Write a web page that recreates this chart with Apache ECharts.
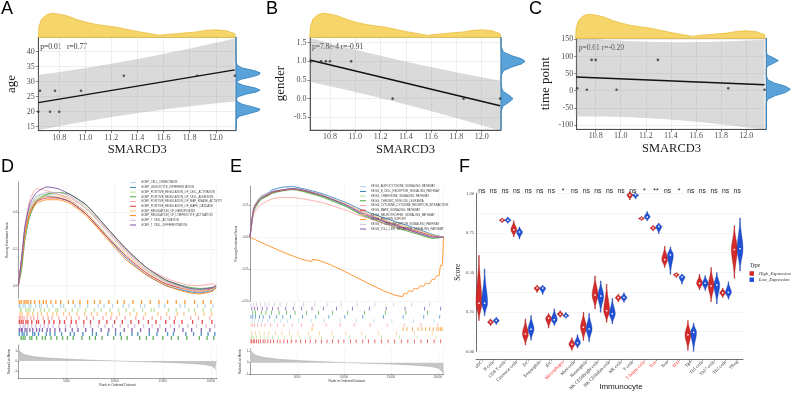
<!DOCTYPE html>
<html>
<head>
<meta charset="utf-8">
<script src="https://cdn.jsdelivr.net/npm/echarts@6.0.0/dist/echarts.min.js"></script>
<style>
  html, body { margin: 0; padding: 0; background: #fff; }
  #main { width: 794px; height: 393px; }
</style>
</head>
<body>
<div id="main"></div>
<script>
var SERIF = "'Liberation Serif', 'DejaVu Serif', serif";
var SANS = "'Liberation Sans', 'DejaVu Sans', sans-serif";

// A-C: SMARCD3 expression against clinical traits
var smarcd3 = [10.64, 10.653, 10.73, 10.768, 10.80, 10.967, 11.296, 11.857, 12.146];
var age = [20, 27, 20, 27, 20, 27, 32, 32, 32];
var gender = [1, 1, 1, 1, 1, 1, 0, 0, 0];
var timePoint = [7, 7, 3, 90, 90, 3, 90, 7, 3];
var smarcdTicks = [10.8, 11.0, 11.2, 11.4, 11.6, 11.8, 12.0];
var ageTicks = [15, 20, 25, 30, 35, 40];
var genderTicks = [-0.5, 0, 0.5, 1, 1.5];
var timeTicks = [-100, -50, 0, 50, 100, 150];
var corrText = ['p=0.01   r=0.77', 'p=7.8e-4 r=-0.91', 'p=0.61 r=-0.20'];

// marginal densities (relative height)
var densX = [10.64, 10.645, 10.666, 10.704, 10.743, 10.793, 10.857, 10.934, 11.011, 11.087, 11.164, 11.24, 11.317, 11.419, 11.52, 11.572, 11.623, 11.70, 11.776, 11.853, 11.929, 12.006, 12.083, 12.146, 12.15];
var densH = [0, 0.45, 0.76, 0.94, 1.0, 0.97, 0.90, 0.74, 0.62, 0.53, 0.47, 0.42, 0.33, 0.22, 0.13, 0.08, 0.12, 0.15, 0.19, 0.22, 0.29, 0.31, 0.27, 0.15, 0];
var ageDensV = [13.7, 17.5, 18.5, 19.5, 20.3, 20.9, 21.6, 22.5, 23.4, 24.2, 25.0, 25.8, 26.6, 27.2, 27.9, 28.8, 29.6, 30.1, 30.8, 31.7, 32.4, 33.0, 33.7, 34.6, 35.6, 37, 44.8];
var ageDensH = [0, 0.02, 0.15, 0.6, 0.95, 1.0, 0.7, 0.25, 0.05, 0.02, 0.08, 0.4, 0.85, 1.0, 0.8, 0.3, 0.06, 0.04, 0.2, 0.7, 0.97, 1.0, 0.75, 0.25, 0.04, 0, 0];
var genderDensV = [-0.84, -0.35, -0.2, -0.1, 0, 0.1, 0.2, 0.35, 0.6, 0.75, 0.85, 0.93, 1.0, 1.07, 1.15, 1.25, 1.4, 1.645];
var genderDensH = [0, 0, 0.08, 0.32, 0.5, 0.32, 0.08, 0, 0, 0.1, 0.45, 0.85, 1.0, 0.85, 0.45, 0.1, 0, 0];
var timeDensV = [-112.6, -35, -25, -15, -5, 4, 13, 22, 32, 45, 65, 72, 80, 88, 96, 104, 112, 153];
var timeDensH = [0, 0, 0.06, 0.35, 0.8, 1.0, 0.8, 0.35, 0.06, 0, 0, 0.05, 0.3, 0.5, 0.3, 0.05, 0, 0];

// D/E: GSEA
var palette = ['#A6CEE3', '#1F78B4', '#B2DF8A', '#33A02C', '#FB9A99', '#E31A1C', '#FDBF6F', '#FF7F00', '#CAB2D6', '#6A3D9A'];
var goNames = ['GOBP_CELL_CHEMOTAXIS', 'GOBP_LEUKOCYTE_DIFFERENTIATION', 'GOBP_POSITIVE_REGULATION_OF_CELL_ACTIVATION',
  'GOBP_POSITIVE_REGULATION_OF_CELL_ADHESION', 'GOBP_POSITIVE_REGULATION_OF_MAP_KINASE_ACTIVITY', 'GOBP_POSITIVE_REGULATION_OF_MAPK_CASCADE',
  'GOBP_REGULATION_OF_HEMOPOIESIS', 'GOBP_REGULATION_OF_LYMPHOCYTE_ACTIVATION', 'GOBP_T_CELL_ACTIVATION', 'GOBP_T_CELL_DIFFERENTIATION'];
var dRank = [0, 350, 690, 1210, 1900, 2940, 4140, 5350, 7080, 9150, 11220, 13290, 15360, 17430, 18810, 20190, 20540];
var dES = [
  [0, 0.15, 0.31, 0.43, 0.49, 0.50, 0.50, 0.47, 0.40, 0.28, 0.16, 0.07, 0.01, -0.025, -0.035, -0.02, -0.01],
  [0, 0.14, 0.30, 0.41, 0.47, 0.49, 0.48, 0.46, 0.39, 0.27, 0.15, 0.06, 0.00, -0.03, -0.04, -0.025, -0.01],
  [0, 0.13, 0.29, 0.42, 0.48, 0.50, 0.51, 0.49, 0.43, 0.31, 0.19, 0.09, 0.025, -0.01, -0.02, -0.01, 0],
  [0, 0.09, 0.25, 0.38, 0.46, 0.50, 0.51, 0.50, 0.44, 0.32, 0.20, 0.10, 0.03, -0.005, -0.015, -0.01, 0],
  [0, 0.16, 0.33, 0.47, 0.53, 0.52, 0.50, 0.48, 0.42, 0.31, 0.19, 0.10, 0.04, 0.005, 0.00, 0.01, 0],
  [0, 0.14, 0.29, 0.40, 0.46, 0.48, 0.48, 0.46, 0.39, 0.27, 0.16, 0.07, 0.01, -0.02, -0.03, -0.015, 0],
  [0, 0.13, 0.29, 0.41, 0.47, 0.49, 0.49, 0.47, 0.40, 0.28, 0.17, 0.08, 0.02, -0.02, -0.03, -0.02, 0],
  [0, 0.13, 0.28, 0.40, 0.45, 0.47, 0.47, 0.45, 0.38, 0.26, 0.14, 0.06, 0.00, -0.035, -0.045, -0.03, -0.01],
  [0, 0.15, 0.31, 0.43, 0.49, 0.51, 0.51, 0.49, 0.42, 0.30, 0.18, 0.085, 0.02, -0.015, -0.025, -0.01, 0],
  [0, 0.15, 0.32, 0.45, 0.51, 0.54, 0.53, 0.50, 0.44, 0.32, 0.20, 0.10, 0.03, -0.01, -0.02, -0.01, 0]
];
// hit positions, thousands of ranks
var dHits = [
  [0.1, 0.2, 0.5, 0.7, 1.1, 1.3, 1.8, 2.2, 2.4, 3.0, 3.6, 4.4, 4.7, 5.9, 6.4, 7.2, 8.3, 8.9, 9.8, 10.9, 11.5, 12.7, 13.1, 14.6, 15.2, 16.8, 17.3, 18.6, 19.4, 20.2],
  [0.1, 0.4, 0.6, 0.9, 1.5, 1.7, 2.1, 2.9, 3.3, 3.8, 4.5, 5.4, 5.8, 6.7, 7.7, 8.1, 9.3, 10.1, 10.6, 11.8, 12.4, 13.6, 14.4, 15.5, 16.1, 17.4, 18.2, 19.0, 19.7, 20.4],
  [0.2, 0.3, 0.8, 1.0, 1.2, 1.6, 2.3, 2.7, 3.2, 3.9, 4.1, 4.9, 5.6, 6.2, 7.0, 7.9, 8.6, 9.5, 10.4, 11.2, 12.0, 12.9, 13.8, 14.1, 15.6, 16.4, 17.7, 18.3, 19.2, 20.0],
  [0.3, 0.5, 0.7, 1.2, 1.4, 1.9, 2.5, 2.8, 3.4, 4.0, 4.6, 5.1, 5.7, 6.6, 7.4, 8.0, 8.7, 9.9, 10.7, 11.3, 12.6, 13.3, 14.0, 15.0, 15.9, 16.6, 17.5, 18.8, 19.6, 20.3],
  [0.1, 0.2, 0.4, 0.6, 0.9, 1.3, 1.6, 2.0, 2.6, 3.1, 3.5, 4.2, 5.0, 5.5, 6.3, 7.1, 7.8, 8.8, 9.6, 10.2, 11.1, 12.2, 13.0, 13.9, 14.8, 15.7, 16.3, 17.9, 18.7, 19.9],
  [0.1, 0.3, 0.5, 0.8, 1.0, 1.4, 1.9, 2.1, 2.7, 3.2, 3.7, 4.3, 4.8, 5.5, 6.0, 6.8, 7.5, 8.4, 9.2, 10.0, 10.8, 11.7, 12.5, 13.5, 14.3, 15.3, 16.2, 17.0, 18.1, 19.1, 20.1],
  [0.2, 0.4, 0.9, 1.1, 1.5, 2.0, 2.4, 3.0, 3.6, 4.0, 4.7, 5.3, 6.1, 6.9, 7.6, 8.2, 9.1, 9.7, 10.5, 11.6, 12.3, 13.2, 14.5, 15.4, 16.5, 17.2, 18.4, 19.3, 20.1],
  [0.1, 0.3, 0.6, 0.8, 1.0, 1.3, 1.7, 2.2, 2.6, 2.9, 3.4, 3.9, 4.4, 5.2, 5.7, 6.4, 7.2, 7.9, 8.5, 9.4, 10.3, 11.0, 11.9, 12.8, 13.7, 14.6, 15.5, 16.4, 17.3, 18.3, 19.2, 20.0],
  [0.2, 0.5, 0.7, 1.0, 1.4, 1.8, 2.3, 2.7, 3.1, 3.6, 4.2, 4.9, 5.4, 6.1, 6.8, 7.5, 8.3, 9.0, 9.8, 10.6, 11.4, 12.1, 13.0, 13.9, 14.7, 15.8, 16.7, 17.6, 18.5, 19.5, 20.4],
  [0.1, 0.3, 0.4, 0.7, 0.9, 1.2, 1.5, 1.9, 2.2, 2.5, 3.0, 3.3, 3.8, 4.3, 4.9, 5.6, 6.2, 7.0, 7.7, 8.6, 9.4, 10.1, 11.0, 11.8, 12.7, 13.6, 14.5, 15.3, 16.2, 17.1, 18.0, 19.0, 19.9]
];
var dRowOrder = [7, 0, 2, 6, 4, 5, 8, 9, 1, 3];

var keggNames = ['KEGG_ADIPOCYTOKINE_SIGNALING_PATHWAY', 'KEGG_B_CELL_RECEPTOR_SIGNALING_PATHWAY', 'KEGG_CHEMOKINE_SIGNALING_PATHWAY',
  'KEGG_CHRONIC_MYELOID_LEUKEMIA', 'KEGG_CYTOKINE_CYTOKINE_RECEPTOR_INTERACTION', 'KEGG_MAPK_SIGNALING_PATHWAY',
  'KEGG_NEUROTROPHIN_SIGNALING_PATHWAY', 'KEGG_PROTEIN_EXPORT', 'KEGG_T_CELL_RECEPTOR_SIGNALING_PATHWAY', 'KEGG_TOLL_LIKE_RECEPTOR_SIGNALING_PATHWAY'];
var eRank = [0, 400, 1100, 1800, 2400, 3450, 4550, 5600, 7700, 10200, 12000, 15500, 18000, 19450, 20600];
var exportRank = [0, 6600, 6650, 16260, 16400, 16700, 16900, 17300, 17500, 17900, 18100, 18500, 18700, 19100, 19400, 19600, 19900, 20100, 20300, 20450, 20600];
var exportES = [0, -0.19, -0.175, -0.465, -0.44, -0.445, -0.42, -0.425, -0.40, -0.405, -0.38, -0.385, -0.36, -0.365, -0.33, -0.335, -0.30, -0.305, -0.22, -0.225, 0];
var eES = [
  [0, 0.21, 0.29, 0.32, 0.34, 0.36, 0.37, 0.36, 0.32, 0.25, 0.19, 0.10, 0.045, 0.015, 0],
  [0, 0.22, 0.31, 0.34, 0.37, 0.39, 0.395, 0.38, 0.34, 0.27, 0.21, 0.12, 0.06, 0.02, 0],
  [0, 0.23, 0.31, 0.33, 0.35, 0.36, 0.37, 0.355, 0.31, 0.24, 0.17, 0.08, 0.03, 0.0, 0],
  [0, 0.20, 0.29, 0.32, 0.345, 0.365, 0.375, 0.36, 0.315, 0.24, 0.17, 0.075, 0.02, -0.01, 0],
  [0, 0.18, 0.25, 0.28, 0.30, 0.31, 0.31, 0.30, 0.27, 0.21, 0.16, 0.08, 0.03, 0.005, 0],
  [0, 0.22, 0.30, 0.325, 0.35, 0.365, 0.375, 0.365, 0.325, 0.255, 0.19, 0.095, 0.04, 0.01, 0],
  [0, 0.21, 0.30, 0.33, 0.355, 0.37, 0.38, 0.37, 0.33, 0.26, 0.20, 0.105, 0.05, 0.015, 0],
  exportES,
  [0, 0.24, 0.32, 0.34, 0.36, 0.37, 0.38, 0.37, 0.33, 0.255, 0.19, 0.09, 0.035, 0.005, 0],
  [0, 0.22, 0.30, 0.33, 0.355, 0.37, 0.38, 0.37, 0.325, 0.25, 0.18, 0.09, 0.03, 0.0, 0]
];
var eHits = [
  [0.2, 0.5, 0.9, 1.3, 1.9, 2.6, 3.3, 4.0, 5.2, 6.5, 7.9, 9.6, 11.3, 13.2, 15.1, 17.4, 19.6],
  [0.1, 0.3, 0.6, 1.0, 1.4, 2.1, 2.8, 3.5, 4.3, 5.6, 7.0, 8.4, 10.1, 12.0, 14.2, 16.3, 18.5, 20.2],
  [0.1, 0.2, 0.4, 0.7, 1.1, 1.5, 1.9, 2.4, 3.0, 3.7, 4.4, 5.3, 6.4, 7.6, 8.9, 10.6, 12.3, 14.0, 15.9, 17.8, 19.8],
  [0.3, 0.6, 1.2, 1.7, 2.3, 3.1, 3.9, 4.8, 6.0, 7.3, 8.8, 10.4, 12.2, 14.4, 16.6, 18.9],
  [0.1, 0.3, 0.5, 0.8, 1.2, 1.6, 2.2, 2.9, 3.6, 4.5, 5.5, 6.7, 8.1, 9.6, 11.1, 12.8, 14.6, 16.4, 18.2, 20.0],
  [0.1, 0.2, 0.4, 0.5, 0.7, 0.9, 1.1, 1.4, 1.6, 1.9, 2.2, 2.5, 2.9, 3.2, 3.6, 4.0, 4.4, 4.9, 5.4, 5.9, 6.4, 7.0, 7.6, 8.2, 8.8, 9.4, 10.0, 10.7, 11.3, 12.0, 12.6, 13.3, 14.0, 14.7, 15.4, 16.1, 16.8, 17.5, 18.2, 18.9, 19.6, 20.3],
  [0.2, 0.6, 1.0, 1.5, 2.0, 2.7, 3.4, 4.2, 5.1, 6.2, 7.4, 8.7, 10.2, 11.9, 13.7, 15.6, 17.5, 19.4],
  [6.6, 16.3, 16.7, 17.3, 17.9, 18.3, 18.7, 19.1, 19.5, 19.9, 20.1, 20.3, 20.45],
  [0.1, 0.4, 0.7, 1.1, 1.6, 2.0, 2.6, 3.2, 3.9, 4.7, 5.7, 6.9, 8.2, 9.7, 11.4, 13.3, 15.3, 17.2, 19.1],
  [0.2, 0.5, 0.8, 1.3, 1.8, 2.4, 3.0, 3.8, 4.6, 5.5, 6.6, 7.8, 9.2, 10.9, 12.7, 14.5, 16.5, 18.6, 20.3]
];
var eRowOrder = [8, 9, 3, 1, 0, 4, 7, 6, 2, 5];
var rankX = [0, 150, 600, 1500, 3000, 5500, 8000, 10300, 12500, 15000, 17500, 19300, 20100, 20450, 20600];
var rankM = [1.3, 0.95, 0.65, 0.45, 0.3, 0.17, 0.07, 0, -0.06, -0.13, -0.22, -0.35, -0.5, -0.8, -1.0];
var esTicksD = [0, 0.2, 0.4];
var esTicksE = [-0.5, -0.25, 0, 0.25];
var metricTicks = [-1, 0, 1];

// F: immune cell ssGSEA scores by SMARCD3 group
var cells = ['aDC', 'B cells', 'CD8 T cells', 'Cytotoxic cells', 'DC', 'Eosinophils', 'iDC', 'Macrophages', 'Mast cells', 'Neutrophils',
  'NK CD56bright cells', 'NK CD56dim cells', 'NK cells', 'T cells', 'T helper cells', 'Tcm', 'Tem', 'TFH', 'Tgd', 'Th1 cells', 'Th17 cells', 'Th2 cells', 'TReg'];
var sigLabels = ['ns', 'ns', 'ns', 'ns', 'ns', 'ns', 'ns', '*', 'ns', 'ns', 'ns', 'ns', 'ns', 'ns', '*', '**', 'ns', '*', 'ns', 'ns', 'ns', 'ns', 'ns'];
var redCells = ['Macrophages', 'T helper cells', 'Tcm', 'TFH'];
var highMin = [0.195, 0.163, 0.815, 0.724, 0.04, 0.373, 0.147, 0.216, 0.006, 0.069, 0.268, 0.184, 0.314, 0.958, 0.828, 0.763, 0.53, 0.467, 0.006, 0.389, 0.314, 0.341, 0.462];
var highMed = [0.305, 0.185, 0.83, 0.77, 0.11, 0.40, 0.21, 0.235, 0.045, 0.153, 0.356, 0.257, 0.34, 0.99, 0.84, 0.78, 0.58, 0.485, 0.105, 0.43, 0.414, 0.37, 0.644];
var highMax = [0.607, 0.205, 0.843, 0.826, 0.205, 0.418, 0.24, 0.257, 0.086, 0.247, 0.477, 0.425, 0.362, 1.01, 0.853, 0.797, 0.665, 0.498, 0.195, 0.487, 0.53, 0.40, 0.795];
var lowMin = [0.226, 0.17, 0.81, 0.711, 0.07, 0.36, 0.163, 0.21, 0.021, 0.06, 0.247, 0.174, 0.31, 0.965, 0.826, 0.745, 0.487, 0.425, 0.0, 0.385, 0.30, 0.33, 0.508];
var lowMed = [0.305, 0.195, 0.83, 0.755, 0.14, 0.40, 0.20, 0.225, 0.053, 0.142, 0.35, 0.237, 0.34, 0.99, 0.85, 0.79, 0.61, 0.47, 0.12, 0.43, 0.42, 0.373, 0.649];
var lowMax = [0.52, 0.215, 0.85, 0.787, 0.226, 0.418, 0.268, 0.245, 0.105, 0.24, 0.445, 0.335, 0.37, 1.0, 0.885, 0.812, 0.661, 0.49, 0.178, 0.48, 0.498, 0.44, 0.843];

var T_QUANT = 2.365; // t(0.975), df = 7

var grid = [], xAxis = [], yAxis = [], series = [], legend = [], elements = [];

function zip(a, b) { return a.map(function (v, i) { return [v, b[i]]; }); }
function addGrid(g) { grid.push(g); return grid.length - 1; }

function polySeries(gi, pts, fill, stroke, z) {
  return {
    type: 'custom', xAxisIndex: gi, yAxisIndex: gi, z: z || 2, silent: true,
    data: pts,
    renderItem: function (params, api) {
      if (params.dataIndex !== 0) return null;
      return {
        type: 'polygon',
        shape: { points: pts.map(function (p) { return api.coord(p); }) },
        style: { fill: fill, stroke: stroke || null, lineWidth: 0.8 }
      };
    }
  };
}

function fitLine(xs, ys) {
  var n = xs.length, mx = 0, my = 0, sxx = 0, sxy = 0, sse = 0, i;
  for (i = 0; i < n; i++) { mx += xs[i] / n; my += ys[i] / n; }
  for (i = 0; i < n; i++) { sxx += (xs[i] - mx) * (xs[i] - mx); sxy += (xs[i] - mx) * (ys[i] - my); }
  var b = sxy / sxx, a = my - b * mx;
  for (i = 0; i < n; i++) { var r = ys[i] - a - b * xs[i]; sse += r * r; }
  return { a: a, b: b, mx: mx, sxx: sxx, n: n, s: Math.sqrt(sse / (n - 2)) };
}

function text(x, y, str, font, opt) {
  opt = opt || {};
  elements.push({
    type: 'text', x: x, y: y, silent: true,
    style: { text: str, font: font, fill: opt.fill || '#000', textAlign: opt.align || 'left', textVerticalAlign: opt.valign || 'middle' }
  });
}

var axisGrey = { color: '#333', width: 0.8 };

function corrPanel(o) {
  var main = addGrid({ left: o.box.l, top: o.box.t, width: o.box.w, height: o.box.h, show: true, borderColor: '#666', borderWidth: 0.6 });
  xAxis.push({
    gridIndex: main, type: 'value', min: o.xMin, max: o.xMax,
    name: 'SMARCD3', nameLocation: 'middle', nameGap: 13,
    nameTextStyle: { fontFamily: SERIF, fontSize: 12.5, color: '#1a1a1a' },
    axisLine: { onZero: false, lineStyle: axisGrey },
    axisTick: { customValues: smarcdTicks, length: 2.5, lineStyle: { color: '#333', width: 0.6 } },
    axisLabel: { customValues: smarcdTicks, formatter: function (v) { return v.toFixed(1); }, fontFamily: SERIF, fontSize: 8, color: '#4d4d4d', margin: 3 },
    splitLine: { show: true, lineStyle: { color: '#e2e2e2', width: 0.6 } }
  });
  yAxis.push({
    gridIndex: main, type: 'value', min: o.yMin, max: o.yMax,
    name: o.yName, nameLocation: 'middle', nameGap: o.nameGap,
    nameTextStyle: { fontFamily: SERIF, fontSize: 13, color: '#1a1a1a' },
    axisLine: { show: true, onZero: false, lineStyle: axisGrey },
    axisTick: { show: true, customValues: o.yTicks, length: 2.5, lineStyle: { color: '#333', width: 0.6 } },
    axisLabel: { customValues: o.yTicks, formatter: o.yFmt, fontFamily: SERIF, fontSize: 8, color: '#4d4d4d', margin: 3.5 },
    splitLine: { show: true, lineStyle: { color: '#e2e2e2', width: 0.6 } }
  });

  var fit = fitLine(smarcd3, o.ys);
  var x0 = Math.min.apply(null, smarcd3), x1 = Math.max.apply(null, smarcd3);
  var upper = [], lower = [];
  function clampY(v) { return Math.max(o.yMin, Math.min(o.yMax, v)); }
  for (var k = 0; k <= 60; k++) {
    var x = x0 + (x1 - x0) * k / 60;
    var yh = fit.a + fit.b * x;
    var hw = T_QUANT * fit.s * Math.sqrt(1 + 1 / fit.n + (x - fit.mx) * (x - fit.mx) / fit.sxx);
    upper.push([x, clampY(yh + hw)]);
    lower.unshift([x, clampY(yh - hw)]);
  }
  series.push(polySeries(main, upper.concat(lower), 'rgba(150,150,150,0.35)', null, 2));
  series.push({
    type: 'line', xAxisIndex: main, yAxisIndex: main, silent: true, showSymbol: false, z: 3,
    data: [[x0, fit.a + fit.b * x0], [x1, fit.a + fit.b * x1]],
    lineStyle: { color: '#111', width: 1.4 }
  });
  series.push({
    type: 'scatter', xAxisIndex: main, yAxisIndex: main, silent: true, z: 4,
    symbolSize: 2.6, itemStyle: { color: '#333' },
    data: zip(smarcd3, o.ys)
  });

  var top = addGrid({ left: o.box.l, top: o.box.t - 25, width: o.box.w, height: 25 });
  xAxis.push({ gridIndex: top, type: 'value', min: o.xMin, max: o.xMax, show: false });
  yAxis.push({ gridIndex: top, type: 'value', min: 0, max: 1.04, show: false });
  var tp = [[densX[0], 0]].concat(zip(densX, densH), [[densX[densX.length - 1], 0]]);
  series.push(polySeries(top, tp, '#F6D66B', '#E9BC3C', 2));

  var right = addGrid({ left: o.box.l + o.box.w, top: o.box.t, width: 26, height: o.box.h });
  xAxis.push({ gridIndex: right, type: 'value', min: 0, max: 1.08, show: false });
  yAxis.push({ gridIndex: right, type: 'value', min: o.yMin, max: o.yMax, show: false });
  series.push(polySeries(right, zip(o.densH, o.densV), '#5AA3DA', '#2C7BB6', 2));

  text(o.box.l + 2, o.box.t + 9.5, o.corr, '7.5px ' + SERIF, { fill: '#333' });
  text(o.letterX, 0, o.letter, '18px ' + SANS, { valign: 'top' });
}

corrPanel({
  letter: 'A', letterX: 1, box: { l: 38.3, t: 37.3, w: 197.7, h: 93.4 }, xMin: 10.64, xMax: 12.155,
  ys: age, yMin: 13.67, yMax: 44.8, yTicks: ageTicks, yFmt: function (v) { return String(v); },
  yName: 'age', nameGap: 20, densV: ageDensV, densH: ageDensH, corr: corrText[0]
});
corrPanel({
  letter: 'B', letterX: 266, box: { l: 310, t: 37.3, w: 191, h: 92.7 }, xMin: 10.642, xMax: 12.153,
  ys: gender, yMin: -0.84, yMax: 1.645, yTicks: genderTicks, yFmt: function (v) { return v.toFixed(1); },
  yName: 'gender', nameGap: 23, densV: genderDensV, densH: genderDensH, corr: corrText[1]
});
corrPanel({
  letter: 'C', letterX: 529, box: { l: 576.7, t: 38.3, w: 189.6, h: 91 }, xMin: 10.649, xMax: 12.16,
  ys: timePoint, yMin: -112.6, yMax: 153, yTicks: timeTicks, yFmt: function (v) { return String(v); },
  yName: 'time point', nameGap: 25, densV: timeDensV, densH: timeDensH, corr: corrText[2]
});

var tinyAxis = { color: '#444', width: 0.5 };
var tinyLabel = { fontSize: 3, fontFamily: SANS, color: '#555', margin: 1.5 };

function gseaPanel(o) {
  var gEs = addGrid(o.esBox), gBar = addGrid(o.barBox), gRank = addGrid(o.rankBox);
  xAxis.push({
    gridIndex: gEs, type: 'value', min: 0, max: 20600, interval: 5000,
    axisLine: { show: false }, axisTick: { show: false }, axisLabel: { show: false },
    splitLine: { show: true, lineStyle: { color: '#ebebeb', width: 0.5 } }
  });
  yAxis.push({
    gridIndex: gEs, type: 'value', min: o.esMin, max: o.esMax,
    name: 'Running Enrichment Score', nameLocation: 'middle', nameGap: 7,
    nameTextStyle: { fontSize: 3, fontFamily: SANS, color: '#333' },
    axisLine: { show: true, onZero: false, lineStyle: tinyAxis },
    axisTick: { show: true, customValues: o.esTicks, length: 1.2, lineStyle: tinyAxis },
    axisLabel: Object.assign({ customValues: o.esTicks, formatter: o.esFmt }, tinyLabel),
    splitLine: { show: true, lineStyle: { color: '#ebebeb', width: 0.5 } }
  });
  xAxis.push({ gridIndex: gBar, type: 'value', min: 0, max: 20.6, show: false });
  yAxis.push({ gridIndex: gBar, type: 'value', min: -0.5, max: 9.5, inverse: true, show: false });
  xAxis.push({
    gridIndex: gRank, type: 'value', min: 0, max: 20600, interval: 5000,
    name: 'Rank in Ordered Dataset', nameLocation: 'middle', nameGap: 5.5,
    nameTextStyle: { fontSize: 3.3, fontFamily: SANS, color: '#333' },
    axisLine: { show: true, onZero: false, lineStyle: tinyAxis },
    axisTick: { show: true, length: 1, lineStyle: tinyAxis },
    axisLabel: Object.assign({ formatter: function (v) { return (v > 0 && v % 5000 === 0) ? String(v) : ''; } }, tinyLabel),
    splitLine: { show: true, lineStyle: { color: '#ebebeb', width: 0.5 } }
  });
  yAxis.push({
    gridIndex: gRank, type: 'value', min: o.mMin, max: o.mMax,
    name: 'Ranked List Metric', nameLocation: 'middle', nameGap: 5,
    nameTextStyle: { fontSize: 3, fontFamily: SANS, color: '#333' },
    axisLine: { show: true, onZero: false, lineStyle: tinyAxis },
    axisTick: { show: true, customValues: metricTicks, length: 1.2, lineStyle: tinyAxis },
    axisLabel: Object.assign({ customValues: metricTicks }, tinyLabel),
    splitLine: { show: false }
  });
  o.names.forEach(function (name, i) {
    series.push({
      type: 'line', name: name, xAxisIndex: gEs, yAxisIndex: gEs, silent: true, z: 3,
      data: zip(o.xs(i), o.curves[i]), showSymbol: false, smooth: 0.2,
      lineStyle: { width: 0.8, color: palette[i] }, itemStyle: { color: palette[i] }
    });
  });
  o.rows.forEach(function (setIdx, r) {
    series.push({
      type: 'scatter', xAxisIndex: gBar, yAxisIndex: gBar, silent: true,
      symbol: 'rect', symbolSize: [o.tickW, 3.8], itemStyle: { color: palette[setIdx] },
      data: o.hits[setIdx].map(function (h) { return [h, r]; })
    });
  });
  series.push({
    type: 'line', xAxisIndex: gRank, yAxisIndex: gRank, silent: true, showSymbol: false,
    data: zip(rankX, rankM), lineStyle: { width: 0.4, color: '#9a9a9a' }, areaStyle: { color: '#c6c6c6', opacity: 1 }
  });
  legend.push({
    data: o.names, left: o.legendX, top: o.legendY, orient: 'vertical', icon: 'rect',
    itemWidth: 6, itemHeight: 0.9, itemGap: 1.3, padding: 0, selectedMode: false,
    textStyle: { fontSize: 2.8, fontFamily: SANS, color: '#444', lineHeight: 3.4 }
  });
}

gseaPanel({
  esBox: { left: 18.3, top: 182, width: 198.4, height: 116.3 },
  barBox: { left: 18.3, top: 300, width: 198.4, height: 40 },
  rankBox: { left: 18.3, top: 345, width: 198.4, height: 33 },
  esMin: -0.069, esMax: 0.567, esTicks: esTicksD, esFmt: function (v) { return v.toFixed(1); },
  mMin: -1.7, mMax: 1.6, names: goNames, curves: dES, xs: function () { return dRank; },
  hits: dHits, rows: dRowOrder, legendX: 130, legendY: 181, tickW: 1.3
});
gseaPanel({
  esBox: { left: 250, top: 186, width: 193.5, height: 115 },
  barBox: { left: 250, top: 302.5, width: 193.5, height: 41 },
  rankBox: { left: 250, top: 349, width: 193.5, height: 25 },
  esMin: -0.5, esMax: 0.4, esTicks: esTicksE, esFmt: function (v) { return v.toFixed(2); },
  mMin: -1.0, mMax: 1.2, names: keggNames, curves: eES, xs: function (i) { return i === 7 ? exportRank : eRank; },
  hits: eHits, rows: eRowOrder, legendX: 360, legendY: 185, tickW: 0.8
});
text(1, 158, 'D', '18px ' + SANS, { valign: 'top' });
text(230, 158, 'E', '18px ' + SANS, { valign: 'top' });

// F
var gF = addGrid({ left: 476, top: 193.3, width: 267, height: 159.4 });
xAxis.push({
  gridIndex: gF, type: 'category', data: cells, offset: 8,
  axisLine: { onZero: false, lineStyle: { color: '#333', width: 0.7 } },
  axisTick: { show: true, length: 1.5, alignWithLabel: true, lineStyle: { color: '#333', width: 0.5 } },
  axisLabel: {
    interval: 0, rotate: 45, fontSize: 4.6, fontFamily: SERIF, color: '#333', margin: 2,
    formatter: function (v) { return redCells.indexOf(v) >= 0 ? '{r|' + v + '}' : v; },
    rich: { r: { color: '#ff3030', fontSize: 4.6, fontFamily: SERIF } }
  }
});
yAxis.push({
  gridIndex: gF, type: 'value', min: 0, max: 1, interval: 0.125,
  name: 'Score', nameLocation: 'middle', nameGap: 11,
  nameTextStyle: { fontFamily: SERIF, fontSize: 7.5, color: '#222' },
  axisLine: { show: true, onZero: false, lineStyle: { color: '#333', width: 0.7 } },
  axisTick: { show: false },
  axisLabel: {
    fontSize: 4.6, fontFamily: SERIF, color: '#4d4d4d', margin: 2,
    formatter: function (v) { return Math.abs(v * 4 - Math.round(v * 4)) < 1e-6 ? v.toFixed(2) : ''; }
  },
  splitLine: { show: true, lineStyle: { color: '#ececec', width: 0.6 } }
});

function violinSeries(name, side, mins, meds, maxs, fill, edge) {
  return {
    type: 'custom', name: name, xAxisIndex: gF, yAxisIndex: gF, z: 3, silent: true,
    itemStyle: { color: fill },
    encode: { x: 0, y: [1, 2, 3] },
    data: cells.map(function (c, i) { return [i, mins[i], meds[i], maxs[i]]; }),
    renderItem: function (params, api) {
      var c = api.value(0), lo = api.value(1), md = api.value(2), hi = api.value(3);
      var band = api.size([1, 0])[0];
      var cx = api.coord([c, md])[0] + side * band * 0.245;
      var hw = band * 0.25;
      var left = [], right = [];
      for (var k = 0; k <= 30; k++) {
        var v = lo + (hi - lo) * k / 30;
        var u = v >= md ? (v - md) / ((hi - md) || 1) : (v - md) / ((md - lo) || 1);
        var w = Math.max(0.35, hw * Math.exp(-3 * u * u));
        var py = api.coord([c, v])[1];
        left.push([cx - w, py]);
        right.unshift([cx + w, py]);
      }
      var my = api.coord([c, md])[1];
      return {
        type: 'group', children: [
          { type: 'polygon', shape: { points: left.concat(right) }, style: { fill: fill, stroke: edge, lineWidth: 0.4 } },
          { type: 'rect', shape: { x: cx - 0.75, y: my - 0.75, width: 1.5, height: 1.5 }, style: { fill: '#fff' } }
        ]
      };
    }
  };
}
series.push(violinSeries('High_Expression', -1, highMin, highMed, highMax, '#d42a2a', '#9c1717'));
series.push(violinSeries('Low_Expression', 1, lowMin, lowMed, lowMax, '#1f50d6', '#15389a'));
series.push({
  type: 'custom', xAxisIndex: gF, yAxisIndex: gF, silent: true, z: 5,
  data: cells.map(function (c, i) { return [i, 1.012]; }),
  renderItem: function (params, api) {
    var p = api.coord([api.value(0), api.value(1)]);
    return {
      type: 'text', x: p[0], y: p[1],
      style: { text: sigLabels[params.dataIndex], font: '6.8px ' + SANS, fill: '#222', textAlign: 'center', textVerticalAlign: 'middle' }
    };
  }
});
legend.push({
  data: ['High_Expression', 'Low_Expression'], left: 749.5, top: 271, orient: 'vertical', icon: 'rect',
  itemWidth: 4.5, itemHeight: 4.5, itemGap: 1.2, padding: 0, selectedMode: false,
  textStyle: { fontSize: 4.6, fontStyle: 'italic', fontFamily: SERIF, color: '#222' }
});
text(750, 266, 'Type', 'italic 5.5px ' + SERIF, { fill: '#222' });
text(621, 387, 'Immunocyte', '8px ' + SANS, { align: 'center', fill: '#222' });
text(459, 158, 'F', '18px ' + SANS, { valign: 'top' });

var chart = echarts.init(document.getElementById('main'));
chart.setOption({
  animation: false,
  backgroundColor: '#fff',
  grid: grid,
  xAxis: xAxis,
  yAxis: yAxis,
  series: series,
  legend: legend,
  graphic: { elements: elements }
});
window.addEventListener('resize', function () { chart.resize(); });
</script>
</body>
</html>
